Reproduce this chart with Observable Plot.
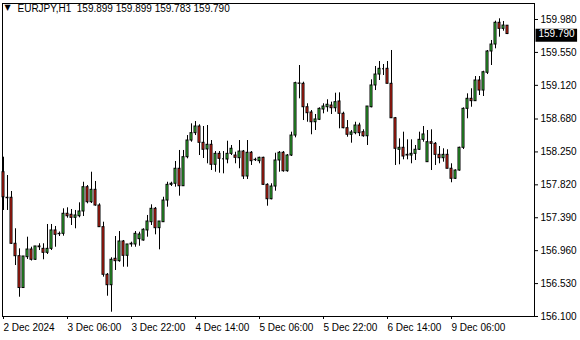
<!DOCTYPE html>
<html>
<head>
<meta charset="utf-8">
<script src="https://cdn.jsdelivr.net/npm/d3@7"></script>
<script src="https://cdn.jsdelivr.net/npm/@observablehq/plot@0.6"></script>
<style>
  html, body { margin: 0; padding: 0; background: #ffffff; }
  #chart { width: 580px; height: 340px; overflow: hidden; }
</style>
</head>
<body>
<div id="chart"></div>
<script>
// ---- Chart data (EURJPY, H1) ----
const symbol = "EURJPY,H1";

const open = [157.985,157.651,157.651,157.050,156.888,156.472,156.875,156.975,156.841,157.015,
156.984,156.932,156.984,157.224,157.175,157.180,157.442,157.429,157.389,157.410,
157.472,157.789,157.593,157.755,157.550,157.267,156.645,156.509,156.854,156.823,
157.080,156.893,157.041,157.041,157.110,157.093,157.224,157.332,157.507,157.254,
157.332,157.615,157.820,157.834,158.030,157.802,158.181,158.399,158.495,158.582,
158.369,158.282,158.343,158.082,158.225,158.160,158.151,158.225,158.203,158.168,
158.255,157.929,158.239,158.147,158.129,158.173,157.820,157.632,157.798,158.138,
158.239,157.998,158.203,158.464,159.144,159.140,158.834,158.765,158.638,158.670,
158.804,158.834,158.856,158.821,158.909,158.748,158.560,158.474,158.495,158.595,
158.508,158.455,158.834,159.118,159.261,159.336,159.336,159.140,158.690,158.278,
158.304,158.203,158.203,158.225,158.278,158.408,158.116,158.377,158.356,158.212,
158.168,158.212,158.030,157.899,158.007,158.304,158.813,158.944,158.913,159.183,
159.052,159.284,159.562,159.653,159.937,159.858,159.899];

const high = [158.181,157.942,157.733,157.246,156.984,156.884,157.136,157.005,157.015,157.050,
157.050,157.302,157.302,157.276,157.204,157.507,157.520,157.498,157.485,157.585,
157.854,157.811,157.985,157.864,157.572,157.332,156.662,156.867,157.145,157.210,
157.093,157.041,157.071,157.210,157.201,157.246,157.420,157.559,157.524,157.341,
157.658,157.854,157.854,158.125,158.269,158.269,158.464,158.617,158.647,158.604,
158.582,158.595,158.399,158.255,158.255,158.255,158.390,158.334,158.246,158.399,
158.269,158.399,158.255,158.168,158.181,158.181,157.834,157.834,158.233,158.255,
158.255,158.216,158.508,159.161,159.379,159.161,158.879,158.791,158.739,158.826,
158.879,158.931,158.900,159.017,159.022,158.769,158.660,158.530,158.638,158.625,
158.539,158.843,159.192,159.366,159.431,159.392,159.431,159.575,158.700,158.421,
158.508,158.408,158.408,158.334,158.508,158.582,158.530,158.539,158.373,158.321,
158.291,158.278,158.095,158.016,158.312,158.826,159.009,159.075,159.235,159.235,
159.304,159.575,159.706,159.958,159.989,159.954,159.899];

const low = [157.485,157.485,157.041,156.766,156.352,156.466,156.845,156.825,156.832,156.962,
156.841,156.910,156.962,157.005,157.145,157.149,157.384,157.289,157.246,157.389,
157.406,157.572,157.576,157.541,157.263,156.614,156.365,156.156,156.701,156.809,
156.744,156.744,157.005,157.005,157.018,157.084,157.136,157.289,157.167,156.971,
157.328,157.528,157.798,157.789,157.672,157.798,158.160,158.377,158.464,158.203,
158.164,158.095,158.007,157.985,157.972,157.964,158.095,158.203,158.095,158.030,
157.890,157.890,158.073,158.125,158.095,157.811,157.541,157.624,157.737,157.985,
157.985,157.985,158.190,158.434,158.944,158.660,158.638,158.474,158.530,158.660,
158.748,158.769,158.739,158.769,158.552,158.552,158.442,158.364,158.474,158.451,
158.442,158.334,158.826,159.052,159.183,159.248,159.140,158.687,158.073,158.082,
158.147,158.147,158.095,158.138,158.269,158.377,158.112,158.007,158.073,158.095,
158.116,158.030,157.847,157.890,157.998,158.282,158.683,158.834,158.909,158.987,
158.974,159.261,159.379,159.597,159.749,159.827,159.783];

const close = [157.658,157.645,157.050,156.888,156.472,156.884,156.975,156.841,157.015,157.005,
156.932,156.984,157.224,157.167,157.180,157.442,157.410,157.389,157.420,157.472,
157.789,157.593,157.755,157.550,157.267,156.645,156.509,156.841,156.823,157.080,
156.893,157.041,157.050,157.180,157.171,157.233,157.341,157.507,157.254,157.341,
157.615,157.820,157.834,158.030,157.802,158.181,158.399,158.495,158.582,158.369,
158.278,158.343,158.082,158.225,158.160,158.160,158.225,158.291,158.173,158.255,
157.929,158.239,158.129,158.142,158.173,157.820,157.632,157.798,158.138,158.239,
157.998,158.203,158.464,159.148,159.140,158.834,158.756,158.638,158.674,158.813,
158.843,158.866,158.821,158.900,158.748,158.560,158.474,158.504,158.595,158.495,
158.455,158.843,159.118,159.261,159.336,159.336,159.140,158.690,158.291,158.304,
158.190,158.212,158.225,158.278,158.408,158.478,158.377,158.356,158.212,158.168,
158.212,158.030,157.899,158.007,158.304,158.813,158.944,158.913,159.183,159.052,
159.291,159.562,159.653,159.937,159.858,159.901,159.790];

const xTickIdx = [0, 16, 32, 48, 64, 80, 96, 112];
const xTickLabels = ["2 Dec 2024", "3 Dec 06:00", "3 Dec 22:00", "4 Dec 14:00",
                     "5 Dec 06:00", "5 Dec 22:00", "6 Dec 14:00", "9 Dec 06:00"];
const yTicks = [156.100, 156.530, 156.960, 157.390, 157.820, 158.250, 158.680, 159.120, 159.550, 159.980];

// ---- build table ----
const candles = open.map((o, i) => ({i, open: o, high: high[i], low: low[i], close: close[i]}));
const last = candles[candles.length - 1];
const header = symbol + "\u00a0 " + [last.open, last.high, last.low, last.close].map(v => v.toFixed(3)).join(" ");

const UP = "#3ee03e", DOWN = "#ff2a1a";
const FONT = "Liberation Sans, Arial, sans-serif";

const chart = Plot.plot({
  width: 580,
  height: 340,
  marginLeft: 2,
  marginRight: 46,
  marginTop: 3,
  marginBottom: 24,
  style: {background: "#ffffff", color: "#000000", fontFamily: FONT, fontSize: "10px"},
  x: {type: "linear", domain: [-0.25, 132.75], axis: null},
  y: {domain: [156.1, 160.189], axis: null},
  marks: [
    Plot.frame({stroke: "#000000"}),
    Plot.ruleX(candles, {x: "i", y1: "low", y2: "high", stroke: "#000000", strokeWidth: 1}),
    Plot.rect(candles, {
      x1: d => d.i - 0.25, x2: d => d.i + 0.25,
      y1: "open", y2: "close",
      fill: d => d.close >= d.open ? UP : DOWN,
      stroke: "#000000", strokeWidth: 1
    }),
    Plot.ruleY(candles.filter(d => Math.abs(d.close - d.open) < 0.004),
      {y: "close", x1: d => d.i - 0.25, x2: d => d.i + 0.25, stroke: "#000000"}),
    Plot.axisY(yTicks, {anchor: "right", tickSize: 3, tickPadding: 3,
      tickFormat: d => d.toFixed(3), label: null, fontSize: 10, stroke: "#000000"}),
    Plot.axisX(xTickIdx, {anchor: "bottom", tickSize: 3, tickPadding: 4, textAnchor: "start",
      tickFormat: d => xTickLabels[xTickIdx.indexOf(d)], label: null, fontSize: 10, stroke: "#000000"}),
    Plot.text(["\u25BC"], {frameAnchor: "top-left", dx: 2, dy: 1, fontFamily: "DejaVu Sans", fontSize: 8, textAnchor: "start"}),
    Plot.text([header], {frameAnchor: "top-left", dx: 15, dy: 1, textAnchor: "start", fontSize: 10}),
    Plot.text([last.close], {y: d => d, text: d => d.toFixed(3), frameAnchor: "right", dx: 4,
      textAnchor: "start", fill: "#ffffff", fontSize: 10})
  ]
});

document.getElementById("chart").appendChild(chart);

// black price tag behind the current close label
const tagText = last.close.toFixed(3);
d3.select(chart).selectAll("text").filter(function() {
  return this.textContent === tagText && this.getAttribute("fill") === "#ffffff" ||
         (this.textContent === tagText && d3.select(this.parentNode).attr("fill") === "#ffffff");
}).each(function() {
  const bb = this.getBBox();
  const g = this.parentNode;
  const tr = this.getAttribute("transform");
  const rect = document.createElementNS("http://www.w3.org/2000/svg", "rect");
  rect.setAttribute("x", bb.x - 3);
  rect.setAttribute("y", bb.y + 0.5);
  rect.setAttribute("width", bb.width + 5);
  rect.setAttribute("height", 13);
  rect.setAttribute("fill", "#000000");
  if (tr) rect.setAttribute("transform", tr);
  g.insertBefore(rect, this);
});
</script>
</body>
</html>
